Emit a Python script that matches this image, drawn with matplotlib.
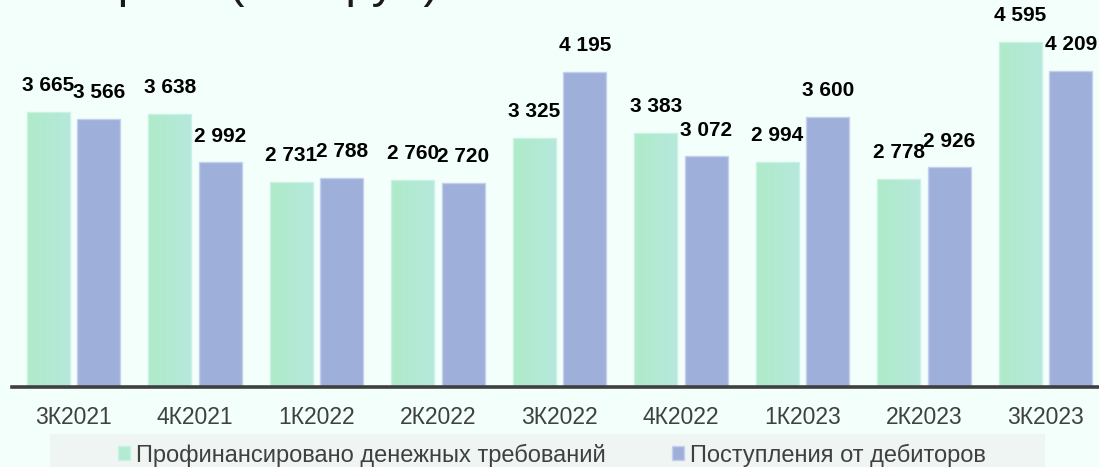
import matplotlib
matplotlib.use("Agg")
import matplotlib.pyplot as plt
from matplotlib.patches import Patch, Rectangle
from matplotlib.colors import LinearSegmentedColormap
import numpy as np

plt.rcParams['font.family'] = ['Liberation Sans', 'DejaVu Sans']

categories = ["3К2021", "4К2021", "1К2022", "2К2022", "3К2022", "4К2022", "1К2023", "2К2023", "3К2023"]
financed = [3665, 3638, 2731, 2760, 3325, 3383, 2994, 2778, 4595]
receipts = [3566, 2992, 2788, 2720, 4195, 3072, 3600, 2926, 4209]
series_names = ["Профинансировано денежных требований", "Поступления от дебиторов"]
title = "Факторинг (млн руб)"

W, H = 1099, 467
BG = "#F2FFFA"
GREEN = "#B2EBD1"
GREEN_L = "#AFEBC9"
GREEN_R = "#B6E8DC"
GREEN_EDGE = "#CAF2E2"
BLUE = "#9EAFD9"
BLUE_EDGE = "#C6D0EE"
TXT = "#404040"

fig = plt.figure(figsize=(W / 100, H / 100), dpi=100, facecolor=BG)

ax_left, ax_bottom_px = 12, 387
ax = fig.add_axes([ax_left / W, (H - ax_bottom_px) / H, (W - ax_left) / W, ax_bottom_px / H])
ax.set_facecolor(BG)

x = np.arange(len(categories))
bw = 43 / 121.5
off = 25.25 / 121.5

b1 = ax.bar(x - off, financed, bw, color=GREEN, edgecolor=GREEN_EDGE, linewidth=1.0, zorder=2)
b2 = ax.bar(x + off, receipts, bw, color=BLUE, edgecolor=BLUE_EDGE, linewidth=1.0, zorder=2)

# subtle horizontal gradient on the green bars
grad_cmap = LinearSegmentedColormap.from_list("g", [GREEN_L, GREEN_R])
grad = np.linspace(0, 1, 64).reshape(1, -1)
for rect in b1:
    x0, y0 = rect.get_x(), rect.get_y()
    im = ax.imshow(grad, cmap=grad_cmap, aspect="auto", interpolation="bilinear",
                   extent=(x0, x0 + rect.get_width(), y0, y0 + rect.get_height()),
                   zorder=2.2)
    im.set_clip_path(rect)
    rect.set_facecolor("none")
    rect.set_zorder(2.5)

def fmt(v):
    return f"{v:,}".replace(",", " ")

for bars, vals in ((b1, financed), (b2, receipts)):
    for rect, v in zip(bars, vals):
        ax.annotate(fmt(v), (rect.get_x() + rect.get_width() / 2, v),
                    xytext=(0, 12.2), textcoords="offset points",
                    ha="center", va="bottom", fontsize=15, fontweight="bold",
                    color="black", zorder=3, annotation_clip=False)

ax.set_xlim(-(73.5 - 12) / 121.5, (W - 73.5) / 121.5)
ax.set_ylim(0, ax_bottom_px / ((ax_bottom_px - 112) / 3665))
ax.set_xticks(x)
ax.set_xticklabels(categories, fontsize=16.5, color=TXT)
ax.tick_params(axis="x", length=0, pad=14)
ax.set_yticks([])
for s in ("top", "right", "left"):
    ax.spines[s].set_visible(False)
ax.spines["bottom"].set_color(TXT)
ax.spines["bottom"].set_linewidth(2.6)
ax.spines["bottom"].set_zorder(4)

# legend background band
fig.patches.append(Rectangle((50 / W, 0), (1045 - 50) / W, (H - 434) / H,
                             transform=fig.transFigure, facecolor="#EFF5F2",
                             edgecolor="none", zorder=0))

handles = [Patch(facecolor=GREEN, edgecolor=GREEN_EDGE), Patch(facecolor=BLUE, edgecolor=BLUE_EDGE)]
fig.legend(handles, series_names, loc="center", bbox_to_anchor=(552 / W, (H - 455) / H),
           ncol=2, frameon=False, fontsize=17, labelcolor=TXT,
           handlelength=0.51, handleheight=0.51, handletextpad=0.25, columnspacing=2.8,
           borderpad=0, borderaxespad=0)

fig.text(439 / W, 1 + 3 / H, title, ha="right", va="baseline", fontsize=34.5, color="#1A1A1A")

fig.savefig("out.png", dpi=100, facecolor=BG)
